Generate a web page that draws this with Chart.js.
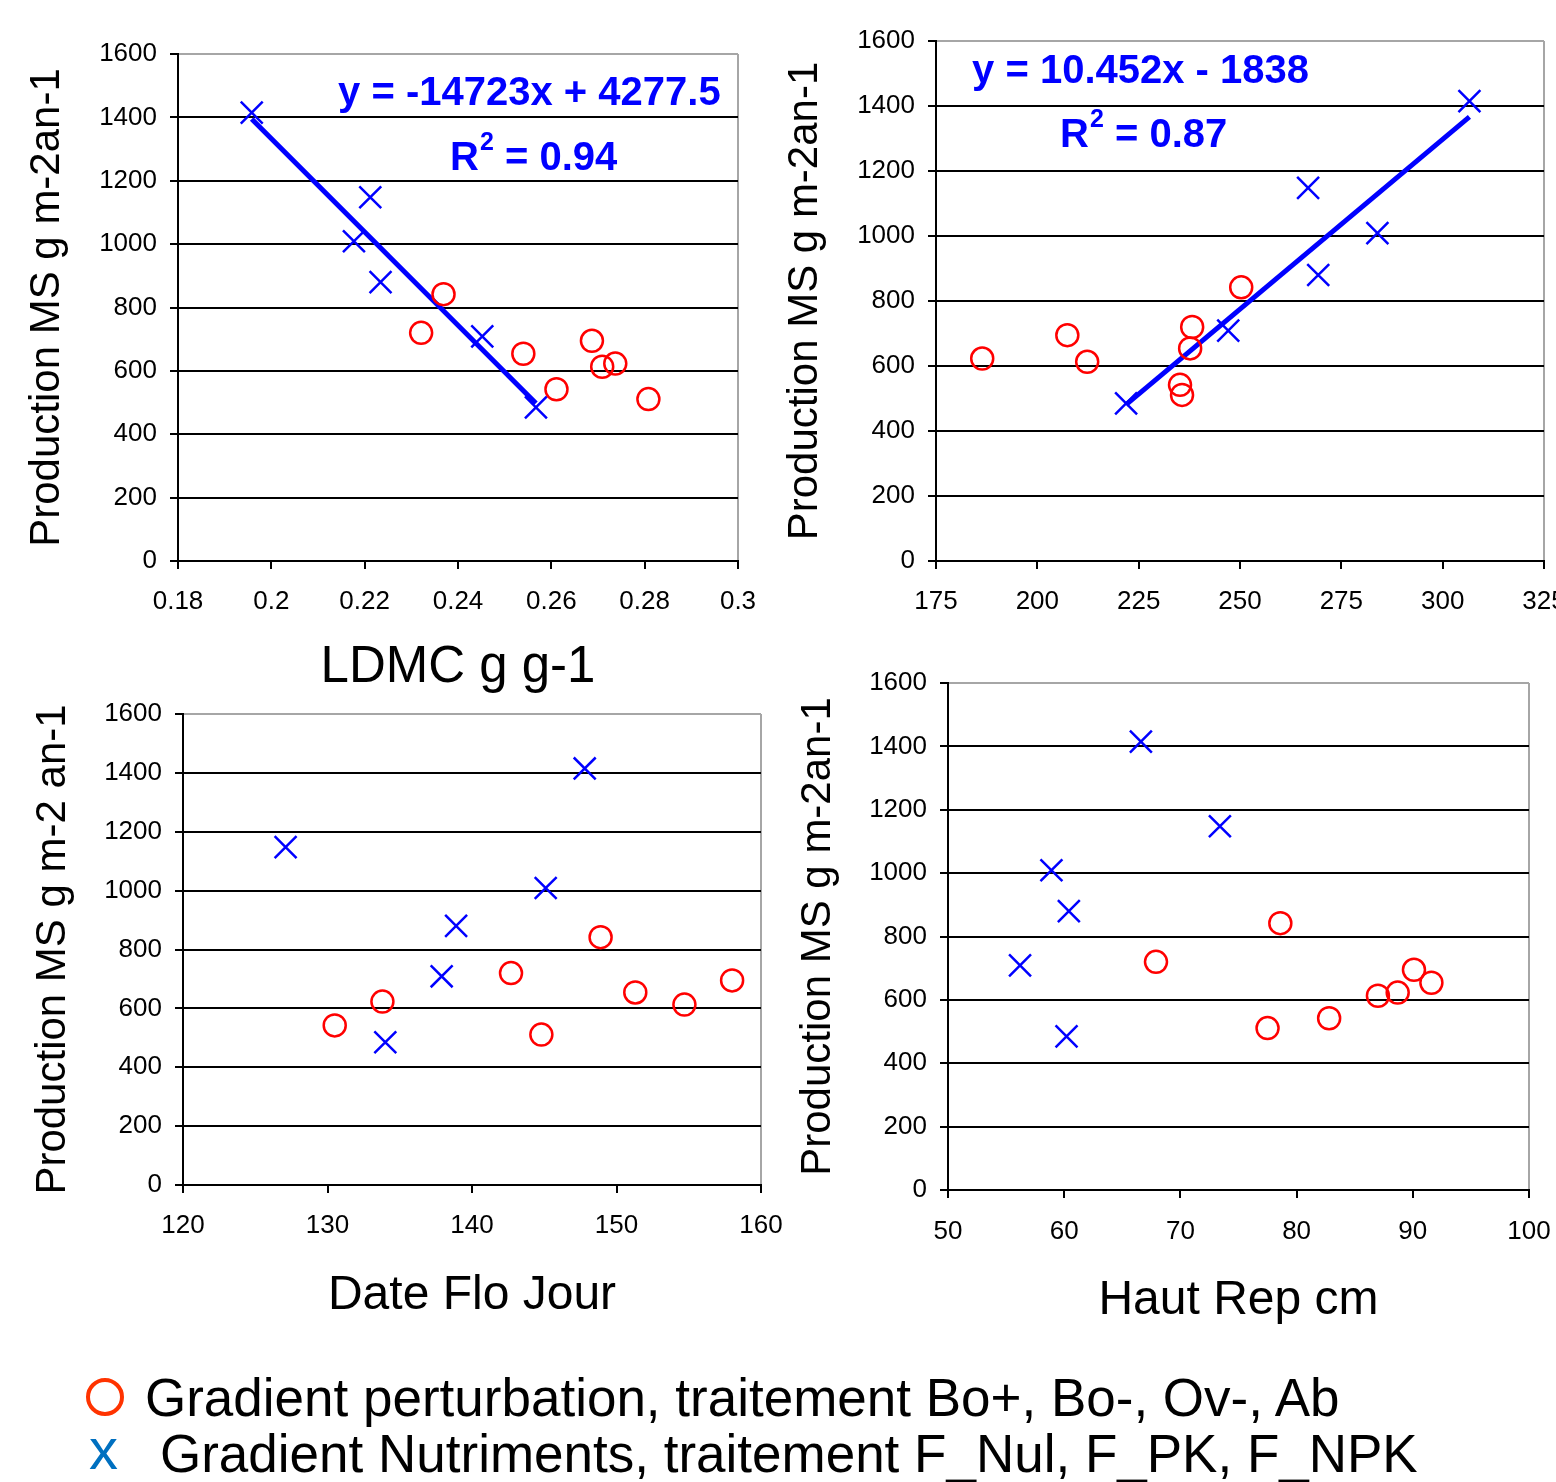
<!DOCTYPE html>
<html>
<head>
<meta charset="utf-8">
<title>Production MS</title>
<script src="https://cdn.jsdelivr.net/npm/chart.js@4.4.1/dist/chart.umd.min.js"></script>
<style>
  html, body { margin: 0; padding: 0; background: #fff; }
  html { overflow: hidden; }
  body { position: relative; width: 1556px; height: 1500px; }
  canvas { position: absolute; }
  .leg { position: absolute; white-space: nowrap; font-family: "Liberation Sans", Arial, sans-serif; font-size: 53px; line-height: 53px; color: #000; }
  .ring { position: absolute; box-sizing: border-box; border: 4px solid #ff3300; border-radius: 50%; }
</style>
</head>
<body>
<canvas id="c1"></canvas>
<canvas id="c2"></canvas>
<canvas id="c3"></canvas>
<canvas id="c4"></canvas>
<div class="ring" style="left:86px;top:1378px;width:38px;height:38px"></div>
<div class="leg" style="left:145px;top:1371px">Gradient perturbation, traitement Bo+, Bo-, Ov-, Ab</div>
<div class="leg" style="left:89px;top:1420px;color:#0070c0;font-size:58px;line-height:58px">x</div>
<div class="leg" style="left:160px;top:1427px">Gradient Nutriments, traitement F_Nul, F_PK, F_NPK</div>
<script>
//production of the 8 plots of the disturbance gradient and the 6 plots of the nutrient gradient
var prodPerturb = [842, 720, 654, 542, 695, 613, 623, 511];
var prodNutri = [1415, 1148, 1009, 880, 709, 485];

//traits, same plot order as above
var ldmcPerturb = [0.2369, 0.2321, 0.2540, 0.2611, 0.2687, 0.2709, 0.2737, 0.2808];
var ldmcNutri = [0.1958, 0.2212, 0.2177, 0.2234, 0.2452, 0.2567];
var trait2Perturb = [250.3, 238.2, 237.7, 235.2, 207.4, 212.3, 186.4, 235.7];
var trait2Nutri = [306.6, 266.8, 283.9, 269.3, 247.1, 221.9];
var floPerturb = [148.9, 142.7, 151.3, 130.5, 158.0, 154.7, 133.8, 144.8];
var floNutri = [147.8, 127.1, 145.1, 138.9, 137.9, 134.0];
var hautPerturb = [78.6, 67.9, 91.6, 82.8, 90.1, 87.0, 88.7, 77.5];
var hautNutri = [66.6, 73.4, 58.9, 60.4, 56.2, 60.2];

//axis ranges [min, max, step]
var prodRange = [0, 1600, 200];
var ldmcRange = [0.18, 0.3, 0.02];
var trait2Range = [175, 325, 25];
var floRange = [120, 160, 10];
var hautRange = [50, 100, 10];

//linear fits on the nutrient gradient [slope, intercept]
var fitLdmc = [-14723, 4277.5];
var fitTrait2 = [10.452, -1838];

var FONT = "'Liberation Sans', Arial, Helvetica, sans-serif";
Chart.defaults.font.family = FONT;
Chart.defaults.color = '#000';

function fmt(v) {
    return String(Math.round(v * 1000) / 1000);
}

function pairs(xs, ys) {
    return xs.map(function (x, i) { return { x: x, y: ys[i] }; });
}

//fit line over the x range of the nutrient points
function fitLine(xs, fit) {
    var lo = Math.min.apply(null, xs), hi = Math.max.apply(null, xs);
    return [{ x: lo, y: fit[0] * lo + fit[1] }, { x: hi, y: fit[0] * hi + fit[1] }];
}

//equation and R2 texts
var notesPlugin = {
    id: 'notes',
    afterDatasetsDraw: function (chart, args, opts) {
        var items = opts.items || [];
        var ctx = chart.ctx;
        ctx.save();
        ctx.fillStyle = '#0000ff';
        ctx.textBaseline = 'alphabetic';
        items.forEach(function (it) {
            var px = chart.scales.x.getPixelForValue(it.x);
            var py = chart.scales.y.getPixelForValue(it.y);
            ctx.font = 'bold 40px ' + FONT;
            ctx.fillText(it.text, px, py);
            if (it.sup) {
                var w = ctx.measureText(it.text).width;
                ctx.font = 'bold 25px ' + FONT;
                ctx.fillText(it.sup, px + w + 1, py - 20);
                var w2 = ctx.measureText(it.sup).width;
                ctx.font = 'bold 40px ' + FONT;
                ctx.fillText(it.rest, px + w + w2 + 1, py);
            }
        });
        ctx.restore();
    }
};

function buildChart(id, box, plot, s) {
    var cv = document.getElementById(id);
    cv.width = box.w;
    cv.height = box.h;
    cv.style.left = box.x + 'px';
    cv.style.top = box.y + 'px';
    var yW = plot.l - box.x;
    var xH = box.y + box.h - plot.b;
    var datasets = [
        { data: pairs(s.xPerturb, prodPerturb), pointStyle: 'circle', pointRadius: 11, pointHoverRadius: 11,
          borderColor: '#ff0000', backgroundColor: 'rgba(0,0,0,0)', borderWidth: 2.5 },
        { data: pairs(s.xNutri, prodNutri), pointStyle: 'crossRot', pointRadius: 15.5, pointHoverRadius: 15.5,
          borderColor: '#0000ff', backgroundColor: '#0000ff', borderWidth: 2.5 }
    ];
    if (s.fit) {
        datasets.push({ data: fitLine(s.xNutri, s.fit), showLine: true, pointRadius: 0, pointHoverRadius: 0,
            borderColor: '#0000ff', borderWidth: 5 });
    }
    return new Chart(cv, {
        type: 'scatter',
        data: { datasets: datasets },
        plugins: [notesPlugin],
        options: {
            responsive: false,
            animation: false,
            devicePixelRatio: 1,
            layout: { padding: { left: 0, top: plot.t - box.y, right: box.x + box.w - plot.r, bottom: 0 } },
            plugins: {
                legend: { display: false },
                tooltip: { enabled: false },
                notes: { items: s.notes || [] }
            },
            scales: {
                x: {
                    type: 'linear',
                    min: s.xRange[0],
                    max: s.xRange[1],
                    afterFit: function (sc) { sc.height = xH; },
                    ticks: { stepSize: s.xRange[2], font: { size: 26 }, padding: s.tickY - plot.b - 8 - 0.6 * 26,
                        callback: fmt, autoSkip: false, maxRotation: 0 },
                    grid: {
                        color: function (c) {
                            return c.tick && Math.abs(c.tick.value - s.xRange[1]) < 1e-9 ? '#a6a6a6' : 'rgba(0,0,0,0)';
                        },
                        tickColor: '#000', lineWidth: 2, tickLength: 8
                    },
                    border: { color: '#000', width: 2 },
                    title: { display: !!s.xTitle, text: s.xTitle || '', font: { size: s.xTitleSize || 48 },
                        padding: { top: 0, bottom: box.y + box.h - s.xTitleY - 0.6 * (s.xTitleSize || 48) } }
                },
                y: {
                    type: 'linear',
                    min: prodRange[0],
                    max: prodRange[1],
                    afterFit: function (sc) { sc.width = yW; },
                    ticks: { stepSize: prodRange[2], font: { size: 26 }, padding: 13, callback: fmt },
                    grid: {
                        color: function (c) {
                            return c.tick && c.tick.value === prodRange[1] ? '#a6a6a6' : '#000';
                        },
                        tickColor: '#000', lineWidth: 2, tickLength: 8
                    },
                    border: { color: '#000', width: 2 },
                    title: { display: true, text: s.yTitle, font: { size: 42 },
                        padding: { top: s.yTitleX - box.x - 0.6 * 42, bottom: 0 } }
                }
            }
        }
    });
}

buildChart('c1', { x: 0, y: 0, w: 800, h: 710 }, { l: 178, t: 54, r: 738, b: 561 }, {
    xPerturb: ldmcPerturb, xNutri: ldmcNutri, xRange: ldmcRange, fit: fitLdmc,
    tickY: 602, xTitle: 'LDMC g g-1', xTitleSize: 51, xTitleY: 668,
    yTitle: 'Production MS g m-2an-1', yTitleX: 47,
    notes: [
        { x: 0.2143, y: 1439, text: 'y = -14723x + 4277.5' },
        { x: 0.2383, y: 1234, text: 'R', sup: '2', rest: ' = 0.94' }
    ]
});

buildChart('c2', { x: 760, y: 0, w: 840, h: 640 }, { l: 936, t: 41, r: 1544, b: 561 }, {
    xPerturb: trait2Perturb, xNutri: trait2Nutri, xRange: trait2Range, fit: fitTrait2,
    tickY: 602, xTitle: '', xTitleY: 660,
    yTitle: 'Production MS g m-2an-1', yTitleX: 805,
    notes: [
        { x: 183.9, y: 1471, text: 'y = 10.452x - 1838' },
        { x: 205.6, y: 1274, text: 'R', sup: '2', rest: ' = 0.87' }
    ]
});

buildChart('c3', { x: 0, y: 680, w: 830, h: 660 }, { l: 183, t: 714, r: 761, b: 1185 }, {
    xPerturb: floPerturb, xNutri: floNutri, xRange: floRange,
    tickY: 1226, xTitle: 'Date Flo Jour', xTitleSize: 48, xTitleY: 1296,
    yTitle: 'Production MS g m-2 an-1', yTitleX: 53
});

buildChart('c4', { x: 770, y: 650, w: 830, h: 700 }, { l: 948, t: 683, r: 1529, b: 1190 }, {
    xPerturb: hautPerturb, xNutri: hautNutri, xRange: hautRange,
    tickY: 1232, xTitle: 'Haut Rep cm', xTitleSize: 48, xTitleY: 1301,
    yTitle: 'Production MS g m-2an-1', yTitleX: 818
});
</script>
</body>
</html>
